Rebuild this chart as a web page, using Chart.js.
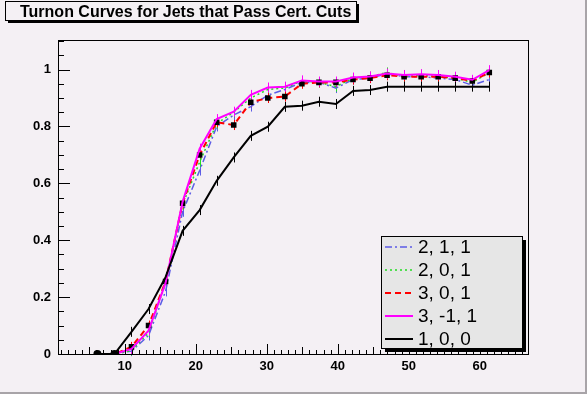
<!DOCTYPE html>
<html>
<head>
<meta charset="utf-8">
<script src="https://cdn.jsdelivr.net/npm/chart.js@4"></script>
<style>
  html, body { margin: 0; padding: 0; background: #f4f0f4; }
  canvas { display: block; }
</style>
</head>
<body>
<canvas id="turnon" width="587" height="394"></canvas>
<script>
// ===== Datos =====
const xBins = [6.15, 8.55, 10.95, 13.35, 15.75, 18.15, 20.55, 22.95, 25.35, 27.75, 30.15, 32.55,
               34.95, 37.35, 39.75, 42.15, 44.55, 46.95, 49.35, 51.75, 54.15, 56.55, 58.95, 61.35];

const cut211 = [0, 0, 0.010, 0.065, 0.220, 0.500, 0.645, 0.800, 0.840, 0.870, 0.910, 0.930,
                0.955, 0.955, 0.935, 0.965, 0.970, 0.985, 0.975, 0.975, 0.970, 0.965, 0.945, 0.965];
const cut201 = [0, 0, 0.012, 0.075, 0.250, 0.525, 0.675, 0.810, 0.850, 0.900, 0.930, 0.935,
                0.960, 0.955, 0.940, 0.970, 0.975, 0.990, 0.975, 0.980, 0.975, 0.970, 0.955, 0.990];
const cut301 = [0, 0, 0.025, 0.100, 0.255, 0.530, 0.700, 0.815, 0.805, 0.885, 0.900, 0.905,
                0.950, 0.955, 0.955, 0.965, 0.970, 0.980, 0.975, 0.975, 0.975, 0.970, 0.960, 0.990];
const cut3m11 = [0, 0, 0.018, 0.082, 0.250, 0.535, 0.722, 0.826, 0.852, 0.911, 0.937, 0.940,
                 0.962, 0.958, 0.958, 0.972, 0.976, 0.986, 0.981, 0.984, 0.981, 0.975, 0.964, 0.998];
const cut100 = [0, 0, 0.078, 0.158, 0.270, 0.433, 0.506, 0.609, 0.691, 0.767, 0.799, 0.869,
                0.873, 0.887, 0.879, 0.925, 0.928, 0.940, 0.940, 0.940, 0.940, 0.940, 0.940, 0.940];

const seriesLabels = ["2, 1, 1", "2, 0, 1", "3, 0, 1", "3, -1, 1", "1, 0, 0"];
const xTickLabels = [10, 20, 30, 40, 50, 60];
const yTickLabels = [0, 0.2, 0.4, 0.6, 0.8, 1];

const titleText = "Turnon Curves for Jets that Pass Cert. Cuts";

const BG = "#f4f0f4";

function toPoints(ys) {
  return ys.map((y, i) => ({ x: xBins[i], y: y }));
}

// ===== Fondo, marco, ticks tipo ROOT, titulo y leyenda =====
const rootStyle = {
  id: "rootStyle",
  beforeDraw(chart) {
    const c = chart.ctx;
    c.save();
    c.fillStyle = BG;
    c.fillRect(0, 0, chart.width, chart.height);
    // borde del canvas
    c.fillStyle = "#a8a4a8";
    c.fillRect(chart.width - 2, 0, 2, chart.height);
    c.fillRect(0, chart.height - 2, chart.width, 2);
    c.restore();
  },
  beforeDatasetsDraw(chart) {
    // barras de error verticales
    const c = chart.ctx;
    c.save();
    chart.data.datasets.forEach((ds, i) => {
      const meta = chart.getDatasetMeta(i);
      c.strokeStyle = ds.borderColor;
      c.lineWidth = 1;
      c.setLineDash([]);
      meta.data.forEach((pt, j) => {
        if (ds.data[j].y <= 0) return;
        c.beginPath();
        c.moveTo(Math.round(pt.x) + 0.5, pt.y - 5);
        c.lineTo(Math.round(pt.x) + 0.5, pt.y + 5);
        c.stroke();
      });
    });
    c.restore();
  },
  afterDraw(chart) {
    const c = chart.ctx;
    const a = chart.chartArea;
    const xs = chart.scales.x;
    const ys = chart.scales.y;
    c.save();
    c.setLineDash([]);
    c.strokeStyle = "#000";
    c.lineWidth = 1;
    c.strokeRect(a.left + 0.5, a.top + 0.5, a.right - a.left, a.bottom - a.top);

    // ticks eje x (hacia dentro)
    c.beginPath();
    for (let v = 1; v <= 66; v++) {
      const px = Math.round(xs.getPixelForValue(v)) + 0.5;
      const len = v % 10 === 0 ? 10 : (v % 5 === 0 ? 7 : 4);
      c.moveTo(px, a.bottom);
      c.lineTo(px, a.bottom - len);
    }
    // ticks eje y
    for (let k = 0; k <= 22; k++) {
      const v = k * 0.05;
      const py = Math.round(ys.getPixelForValue(v)) + 0.5;
      const len = k % 4 === 0 ? 12 : 6;
      c.moveTo(a.left, py);
      c.lineTo(a.left + len, py);
    }
    c.stroke();

    // titulo
    const tx = 5, ty = 1, tw = 351, th = 19;
    c.fillStyle = "#000";
    c.fillRect(tx + 3, ty + 3, tw, th);
    c.fillStyle = BG;
    c.fillRect(tx, ty, tw, th);
    c.strokeRect(tx + 0.5, ty + 0.5, tw, th);
    c.fillStyle = "#000";
    c.font = "bold 16px 'Liberation Sans', Arial, sans-serif";
    c.textAlign = "left";
    c.textBaseline = "alphabetic";
    c.fillText(titleText, 20, 17);

    // leyenda
    const lx = 381, ly = 236, lw = 141, lh = 112;
    c.fillStyle = "#000";
    c.fillRect(lx + 4, ly + 4, lw, lh);
    c.fillStyle = "#e6e6e6";
    c.fillRect(lx, ly, lw, lh);
    c.strokeRect(lx + 0.5, ly + 0.5, lw, lh);
    c.font = "19px 'Liberation Sans', Arial, sans-serif";
    c.textBaseline = "middle";
    chart.data.datasets.forEach((ds, i) => {
      const yy = ly + 11 + i * 23;
      c.strokeStyle = ds.borderColor;
      c.lineWidth = ds.borderWidth;
      c.setLineDash(ds.borderDash || []);
      c.beginPath();
      c.moveTo(lx + 4, yy);
      c.lineTo(lx + 32, yy);
      c.stroke();
      c.setLineDash([]);
      c.fillStyle = "#000";
      c.fillText(ds.label, lx + 37, yy + 1);
    });
    c.restore();
  },
};

const ctx = document.getElementById("turnon").getContext("2d");
const chart = new Chart(ctx, {
  type: "line",
  data: {
    datasets: [
      {
        label: seriesLabels[0],
        data: toPoints(cut211),
        borderColor: "#5c5ce6",
        borderWidth: 1.5,
        borderDash: [7, 3, 2, 3],
        pointRadius: 0,
        order: 4,
      },
      {
        label: seriesLabels[1],
        data: toPoints(cut201),
        borderColor: "#22dd22",
        borderWidth: 1.5,
        borderDash: [2, 3],
        pointRadius: 0,
        order: 3,
      },
      {
        label: seriesLabels[2],
        data: toPoints(cut301),
        borderColor: "#ff0000",
        borderWidth: 2,
        borderDash: [6, 4],
        pointStyle: "rect",
        pointRadius: 2.5,
        pointBackgroundColor: "#000",
        pointBorderColor: "#000",
        order: 2,
      },
      {
        label: seriesLabels[3],
        data: toPoints(cut3m11),
        borderColor: "#ff00ff",
        borderWidth: 2,
        pointRadius: 0,
        order: 1,
      },
      {
        label: seriesLabels[4],
        data: toPoints(cut100),
        borderColor: "#000000",
        borderWidth: 2,
        pointStyle: "circle",
        pointRadius: (c) => (c.raw && c.raw.y === 0 ? 3 : 0),
        pointBackgroundColor: "#000",
        pointBorderColor: "#000",
        order: 0,
      },
    ],
  },
  options: {
    responsive: false,
    animation: false,
    devicePixelRatio: 1,
    layout: { padding: { top: 40, right: 59, left: 0, bottom: 0 } },
    plugins: {
      legend: { display: false },
      tooltip: { enabled: false },
      title: { display: false },
    },
    elements: { line: { tension: 0, fill: false } },
    scales: {
      x: {
        type: "linear",
        min: 0.6,
        max: 66.8,
        grid: { display: false, drawTicks: false },
        border: { display: false },
        afterFit: (s) => { s.height = 40; },
        afterBuildTicks: (s) => { s.ticks = xTickLabels.map((v) => ({ value: v })); },
        ticks: {
          padding: 5,
          color: "#000",
          font: { family: "'Liberation Sans', Arial, sans-serif", size: 13, weight: "bold" },
          maxRotation: 0,
        },
      },
      y: {
        type: "linear",
        min: 0,
        max: 1.104,
        grid: { display: false, drawTicks: false },
        border: { display: false },
        afterFit: (s) => { s.width = 58; },
        afterBuildTicks: (s) => { s.ticks = yTickLabels.map((v) => ({ value: v })); },
        ticks: {
          padding: 7,
          color: "#000",
          font: { family: "'Liberation Sans', Arial, sans-serif", size: 13, weight: "bold" },
          callback: (v) => String(v),
        },
      },
    },
  },
  plugins: [rootStyle],
});
</script>
</body>
</html>
